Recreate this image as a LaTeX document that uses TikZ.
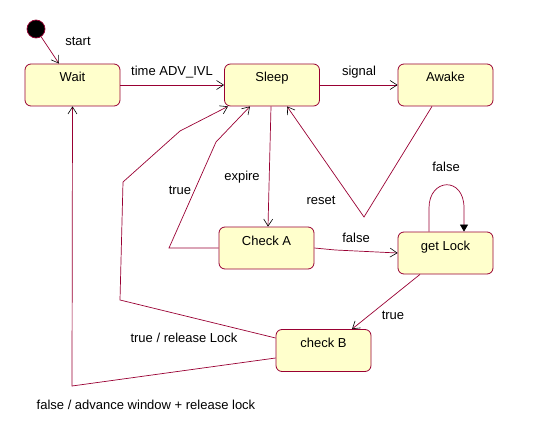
\documentclass[tikz,border=0pt]{standalone}
\usepackage{fontspec}
\setmainfont{Liberation Sans}
\usetikzlibrary{arrows.meta}
\definecolor{edge}{HTML}{990033}
\definecolor{statefill}{HTML}{FFFFCC}
\begin{document}
\begin{tikzpicture}[x=1pt,y=-1pt,
  every node/.style={font=\fontsize{13}{15}\selectfont},
  state/.style={draw=edge,fill=statefill,rounded corners=6pt,line width=0.8pt,
    minimum width=95pt,minimum height=42pt,inner sep=0pt,text height=8pt,text depth=14pt},
  lbl/.style={inner sep=0pt},
  trans/.style={draw=edge,line width=0.7pt,-{Straight Barb[length=7pt,width=9pt,color=black,line width=0.6pt]}},
  loopt/.style={draw=edge,line width=0.7pt,-{Triangle[length=7pt,width=8pt,color=black]}}]
\useasboundingbox (0,0) rectangle (543,433);
\node[circle,fill=black,draw=edge,line width=0.7pt,minimum size=18pt,inner sep=0pt] (dot) at (36,29) {};
\node[state] (wait) at (72.5,85) {Wait};
\node[state] (sleep) at (272,85) {Sleep};
\node[state] (awake) at (445.5,85) {Awake};
\node[state] (checka) at (266.5,248) {Check A};
\node[state] (getlock) at (445.5,253) {get Lock};
\node[state] (checkb) at (323.5,350.5) {check B};
% edges
\draw[trans] (dot) -- (59,0 |- wait.north);
\draw[trans] (wait.east) -- (sleep.west);
\draw[trans] (sleep.east) -- (awake.west);
\draw[trans] (271,0 |- sleep.south) -- (268,0 |- checka.north);
\draw[trans] (checka.east) -- ++(21,2) -- (getlock.west);
\draw[trans] (432,0 |- awake.south) -- (364,217) -- (287,0 |- sleep.south);
\draw[loopt] (429,0 |- getlock.north) -- (429,208) .. controls (429,178) and (464,176) .. (464,208) -- (464,0 |- getlock.north);
\draw[trans] (420,0 |- getlock.south) -- (352,0 |- checkb.north);
\draw[trans] (checka.west) -- (169,0 |- checka.west) -- (216,142) -- (250,0 |- sleep.south);
\draw[trans] (checkb.west |- 0,338) -- (120,300) -- (123,182) -- (180,131) -- (228,0 |- sleep.south);
\draw[trans] (checkb.west |- 0,358) -- (72,386) -- (wait.south);
% labels
\node[lbl] (l1) at (78,41) {start};
\node[lbl] (l2) at (172,72) {time ADV\_IVL};
\node[lbl] (l3) at (359,72) {signal};
\node[lbl] (l4) at (242,177) {expire};
\node[lbl] (l5) at (180,190) {true};
\node[lbl] (l6) at (321,200) {reset};
\node[lbl] (l7) at (446,167) {false};
\node[lbl] (l8) at (356,238) {false};
\node[lbl] (l9) at (393,315) {true};
\node[lbl] (l10) at (184,338) {true / release Lock};
\node[lbl] (l11) at (146,405) {false / advance window + release lock};
\end{tikzpicture}
\end{document}
